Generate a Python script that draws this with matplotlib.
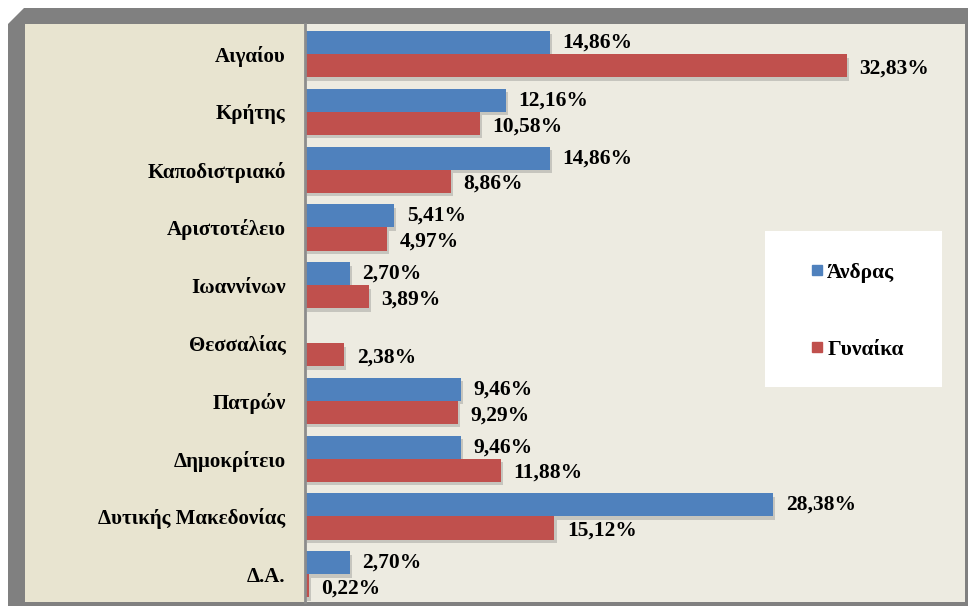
# bar chart: university share by gender (Άνδρας / Γυναίκα)
import matplotlib
matplotlib.use("Agg")
import matplotlib.pyplot as plt
import matplotlib.patheffects as pe
from matplotlib.patches import Rectangle, Polygon
from matplotlib.lines import Line2D

# ---------------- data ----------------
categories = ["Αιγαίου", "Κρήτης", "Καποδιστριακό", "Αριστοτέλειο", "Ιωαννίνων",
              "Θεσσαλίας", "Πατρών", "Δημοκρίτειο", "Δυτικής Μακεδονίας", "Δ.Α."]
men = [14.86, 12.16, 14.86, 5.41, 2.70, 0.0, 9.46, 9.46, 28.38, 2.70]
women = [32.83, 10.58, 8.86, 4.97, 3.89, 2.38, 9.29, 11.88, 15.12, 0.22]
series_names = ["Άνδρας", "Γυναίκα"]

# ---------------- style ----------------
BLUE = "#4F81BD"
RED = "#C0504D"
FRAME = "#808080"
PANEL = "#E8E4D0"
PLOT_BG = "#EDEBE1"
FONT = "Liberation Serif"

W, H = 968, 606
fig = plt.figure(figsize=(W / 100, H / 100), dpi=100, facecolor="white")

def fx(px):
    return px / W

def fy(py):
    return 1 - py / H

# outer gray frame with bevelled top-left corner
frame = Polygon([(fx(8), fy(24)), (fx(24), fy(8)), (fx(968), fy(8)),
                 (fx(968), fy(606)), (fx(8), fy(606))],
                closed=True, transform=fig.transFigure, facecolor=FRAME,
                edgecolor="none", zorder=-2)
fig.patches.append(frame)
inner = Rectangle((fx(25), fy(602)), fx(965) - fx(25), fy(24) - fy(602),
                  transform=fig.transFigure, facecolor=PANEL, edgecolor="none",
                  zorder=-1)
fig.patches.append(inner)

ax = fig.add_axes([fx(305), fy(602), fx(965) - fx(305), fy(24) - fy(602)])
ax.set_facecolor(PLOT_BG)

pos = list(range(len(categories)))
h = 0.4
shadow = [pe.SimplePatchShadow(offset=(1.5, -2.5), shadow_rgbFace="#6E6E6E", alpha=0.3),
          pe.Normal()]

bars_m = ax.barh([p - h / 2 for p in pos], men, height=h, color=BLUE, zorder=3)
bars_w = ax.barh([p + h / 2 for p in pos], women, height=h, color=RED, zorder=3)
for b in list(bars_m) + list(bars_w):
    b.set_path_effects(shadow)

def fmt(v):
    return f"{v:.2f}%".replace(".", ",")

for p, v in zip(pos, men):
    if v > 0:
        ax.annotate(fmt(v), (v, p - h / 2), xytext=(9, 0), textcoords="offset points",
                    va="center", ha="left", fontsize=15.5, fontweight="bold",
                    family=FONT, zorder=4)
for p, v in zip(pos, women):
    ax.annotate(fmt(v), (v, p + h / 2), xytext=(9, -2), textcoords="offset points",
                va="center", ha="left", fontsize=15.5, fontweight="bold",
                family=FONT, zorder=4)

ax.set_xlim(0, 40)
ax.set_ylim(9.48, -0.52)
ax.set_yticks(pos)
ax.set_yticklabels(categories, fontsize=15, fontweight="bold", family=FONT)
ax.tick_params(axis="y", length=0, pad=14)
ax.set_xticks([])
for s in ["top", "right", "bottom"]:
    ax.spines[s].set_visible(False)
ax.spines["left"].set_color("#8C8C8C")
ax.spines["left"].set_linewidth(2)
ax.spines["left"].set_zorder(5)

# legend: white box with two entries
ax.add_patch(Rectangle((0.697, 0.372), 0.268, 0.27, transform=ax.transAxes,
                       facecolor="white", edgecolor="none", zorder=6))
handles = [Line2D([], [], marker="s", linestyle="none", markersize=7.5,
                  markerfacecolor=c, markeredgecolor=c) for c in (BLUE, RED)]
leg = ax.legend(handles, series_names, loc="center", bbox_to_anchor=(0.837, 0.503),
                frameon=False, labelspacing=2.65, handlelength=0.55, handletextpad=0.2,
                prop={"family": FONT, "weight": "bold", "size": 15.5})
leg.set_zorder(7)

fig.savefig("out.png", dpi=100, facecolor=fig.get_facecolor())
